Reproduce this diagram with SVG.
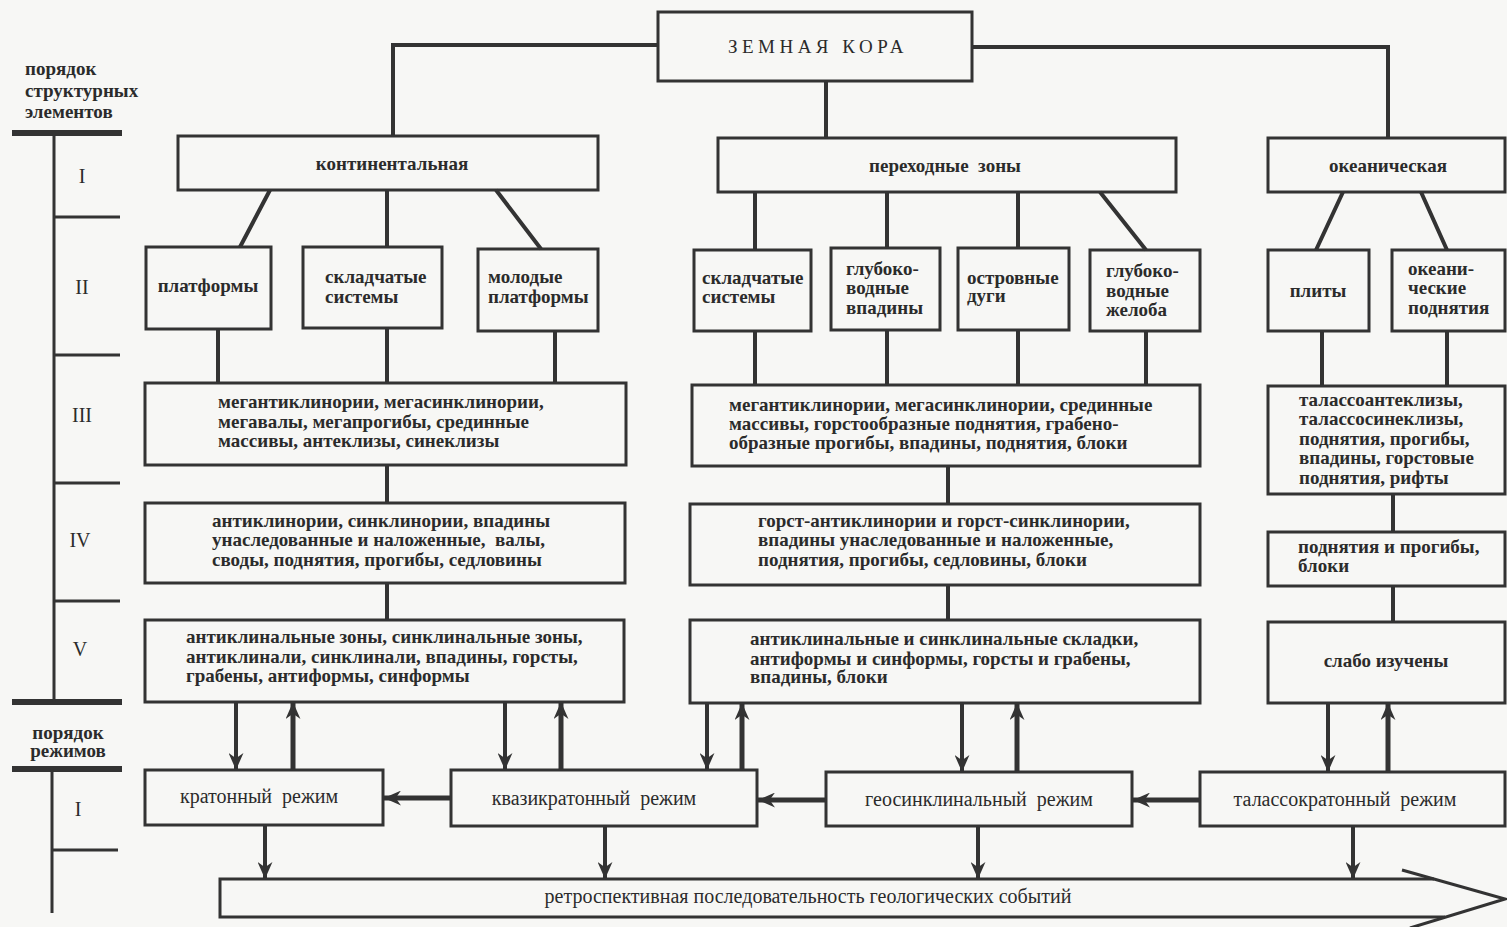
<svg xmlns="http://www.w3.org/2000/svg" width="1507" height="927" viewBox="0 0 1507 927">
<defs>
<style>
.bg{fill:#f7f7f5}
.box{fill:none;stroke:#333;stroke-width:3}
.ln{fill:none;stroke:#333;stroke-width:4}
.ar{fill:none;stroke:#333;stroke-width:4}
.arT{fill:none;stroke:#333;stroke-width:5}
.sc{fill:none;stroke:#333;stroke-width:3}
.scT{fill:none;stroke:#333;stroke-width:6}
text{font-family:"Liberation Serif","Times New Roman",serif;fill:#2b2b2b;font-size:19px;font-weight:bold;white-space:pre}
.c{text-anchor:middle}
.n{font-weight:normal;font-size:20px}
.root{font-weight:normal;font-size:19px;letter-spacing:4.5px}
.rom{font-weight:normal;font-size:20px;text-anchor:middle}
</style>
<marker id="ah" viewBox="0 0 16 14" refX="16" refY="7" markerWidth="17" markerHeight="15" markerUnits="userSpaceOnUse" orient="auto">
<path d="M0,0 L16,7 L0,14 L5,7 z" fill="#333"/>
</marker>
</defs>
<rect class="bg" x="0" y="0" width="1507" height="927"/>

<g id="scale">
<path class="scT" d="M12,133 H122 M12,702 H122 M12,769 H122"/>
<path class="sc" d="M54,133 V702 M54,217 H120 M54,355 H120 M54,483 H120 M54,601 H120 M52,769 V913 M52,850 H118"/>
<text x="25" y="75">порядок</text>
<text x="25" y="97">структурных</text>
<text x="25" y="118">элементов</text>
<text class="rom" x="82" y="183">I</text>
<text class="rom" x="82" y="294">II</text>
<text class="rom" x="82" y="422">III</text>
<text class="rom" x="80" y="547">IV</text>
<text class="rom" x="80" y="656">V</text>
<text class="c" x="68" y="739">порядок</text>
<text class="c" x="68" y="757">режимов</text>
<text class="rom" x="78" y="816">I</text>
</g>

<g id="connectors">
<path class="ln" d="M658,45 H393 V136"/>
<path class="ln" d="M972,47 H1388 V138"/>
<path class="ln" d="M826,81 V138"/>
<path class="ln" d="M270,190 L240,247 M387,190 V247 M496,190 L541,249"/>
<path class="ln" d="M755,192 V250 M887,192 V248 M1018,192 V248 M1100,192 L1146,250"/>
<path class="ln" d="M1343,192 L1316,250 M1421,192 L1447,250"/>
<path class="ln" d="M218,329 V383 M387,328 V383 M555,331 V383"/>
<path class="ln" d="M755,331 V385 M887,330 V385 M1018,330 V385 M1146,331 V385"/>
<path class="ln" d="M1322,331 V386 M1447,331 V386"/>
<path class="ln" d="M387,465 V503 M948,466 V504 M1393,494 V532"/>
<path class="ln" d="M387,583 V620 M948,585 V620 M1393,586 V622"/>
<path class="ar" marker-end="url(#ah)" d="M236,702 V770"/>
<path class="arT" marker-end="url(#ah)" d="M293,770 V702"/>
<path class="ar" marker-end="url(#ah)" d="M505,702 V770"/>
<path class="arT" marker-end="url(#ah)" d="M561,770 V702"/>
<path class="ar" marker-end="url(#ah)" d="M707,703 V770"/>
<path class="arT" marker-end="url(#ah)" d="M742,770 V703"/>
<path class="ar" marker-end="url(#ah)" d="M962,703 V772"/>
<path class="arT" marker-end="url(#ah)" d="M1017,772 V703"/>
<path class="ar" marker-end="url(#ah)" d="M1328,703 V772"/>
<path class="arT" marker-end="url(#ah)" d="M1388,772 V703"/>
<path class="arT" marker-end="url(#ah)" d="M451,798 H384"/>
<path class="arT" marker-end="url(#ah)" d="M826,800 H758"/>
<path class="arT" marker-end="url(#ah)" d="M1200,800 H1133"/>
<path class="ar" marker-end="url(#ah)" d="M265,825 V879"/>
<path class="ar" marker-end="url(#ah)" d="M605,826 V879"/>
<path class="ar" marker-end="url(#ah)" d="M978,826 V879"/>
<path class="ar" marker-end="url(#ah)" d="M1353,826 V879"/>
</g>

<g id="root"><rect class="box" x="658" y="12" width="314" height="69"/><text class="root c" x="818" y="53">ЗЕМНАЯ КОРА</text></g>

<g id="continental"><rect class="box" x="178" y="136" width="420" height="54"/><text class="c" x="392" y="170">континентальная</text></g>
<g id="transition"><rect class="box" x="718" y="138" width="458" height="54"/><text class="c" x="945" y="172">переходные  зоны</text></g>
<g id="oceanic"><rect class="box" x="1268" y="138" width="237" height="54"/><text class="c" x="1388" y="172">океаническая</text></g>

<g id="platforms"><rect class="box" x="146" y="247" width="125" height="82"/><text class="c" x="208" y="292">платформы</text></g>
<g id="folded1"><rect class="box" x="303" y="247" width="139" height="81"/><text x="325" y="283">складчатые</text><text x="325" y="303">системы</text></g>
<g id="young"><rect class="box" x="478" y="249" width="120" height="82"/><text x="488" y="283">молодые</text><text x="488" y="303">платформы</text></g>
<g id="folded2"><rect class="box" x="694" y="250" width="117" height="81"/><text x="702" y="284">складчатые</text><text x="702" y="303">системы</text></g>
<g id="deepbasins"><rect class="box" x="831" y="248" width="109" height="82"/><text x="846" y="275">глубоко-</text><text x="846" y="294">водные</text><text x="846" y="314">впадины</text></g>
<g id="arcs"><rect class="box" x="958" y="248" width="111" height="82"/><text x="967" y="284">островные</text><text x="967" y="302">дуги</text></g>
<g id="trenches"><rect class="box" x="1090" y="250" width="110" height="81"/><text x="1106" y="277">глубоко-</text><text x="1106" y="297">водные</text><text x="1106" y="316">желоба</text></g>
<g id="plates"><rect class="box" x="1268" y="250" width="101" height="81"/><text class="c" x="1318" y="297">плиты</text></g>
<g id="oceanrises"><rect class="box" x="1392" y="250" width="113" height="81"/><text x="1408" y="275">океани-</text><text x="1408" y="294">ческие</text><text x="1408" y="314">поднятия</text></g>

<g id="c3"><rect class="box" x="145" y="383" width="481" height="82"/>
<text x="218" y="408">мегантиклинории, мегасинклинории,</text>
<text x="218" y="428">мегавалы, мегапрогибы, срединные</text>
<text x="218" y="447">массивы, антеклизы, синеклизы</text></g>
<g id="t3"><rect class="box" x="692" y="385" width="508" height="81"/>
<text x="729" y="411">мегантиклинории, мегасинклинории, срединные</text>
<text x="729" y="430">массивы, горстообразные поднятия, грабено-</text>
<text x="729" y="449">образные прогибы, впадины, поднятия, блоки</text></g>
<g id="o3"><rect class="box" x="1268" y="386" width="237" height="108"/>
<text x="1299" y="406">талассоантеклизы,</text>
<text x="1299" y="425">талассосинеклизы,</text>
<text x="1299" y="445">поднятия, прогибы,</text>
<text x="1299" y="464">впадины, горстовые</text>
<text x="1299" y="484">поднятия, рифты</text></g>

<g id="c4"><rect class="box" x="145" y="503" width="480" height="80"/>
<text x="212" y="527">антиклинории, синклинории, впадины</text>
<text x="212" y="546">унаследованные и наложенные,  валы,</text>
<text x="212" y="566">своды, поднятия, прогибы, седловины</text></g>
<g id="t4"><rect class="box" x="690" y="504" width="510" height="81"/>
<text x="758" y="527">горст-антиклинории и горст-синклинории,</text>
<text x="758" y="546">впадины унаследованные и наложенные,</text>
<text x="758" y="566">поднятия, прогибы, седловины, блоки</text></g>
<g id="o4"><rect class="box" x="1268" y="532" width="237" height="54"/>
<text x="1298" y="553">поднятия и прогибы,</text>
<text x="1298" y="572">блоки</text></g>

<g id="c5"><rect class="box" x="145" y="620" width="479" height="82"/>
<text x="186" y="643">антиклинальные зоны, синклинальные зоны,</text>
<text x="186" y="663">антиклинали, синклинали, впадины, горсты,</text>
<text x="186" y="682">грабены, антиформы, синформы</text></g>
<g id="t5"><rect class="box" x="690" y="620" width="510" height="83"/>
<text x="750" y="645">антиклинальные и синклинальные складки,</text>
<text x="750" y="665">антиформы и синформы, горсты и грабены,</text>
<text x="750" y="683">впадины, блоки</text></g>
<g id="o5"><rect class="box" x="1268" y="622" width="237" height="81"/>
<text class="c" x="1386" y="667">слабо изучены</text></g>

<g id="cratonic"><rect class="box" x="145" y="770" width="238" height="55"/><text class="c n" x="259" y="803">кратонный  режим</text></g>
<g id="quasicratonic"><rect class="box" x="451" y="770" width="306" height="56"/><text class="c n" x="594" y="805">квазикратонный  режим</text></g>
<g id="geosynclinal"><rect class="box" x="826" y="772" width="306" height="54"/><text class="c n" x="979" y="806">геосинклинальный  режим</text></g>
<g id="thalassocratonic"><rect class="box" x="1200" y="772" width="305" height="54"/><text class="c n" x="1345" y="806">талассократонный  режим</text></g>

<g id="retro">
<path class="box" d="M1434,879 H220 V917 H1445"/>
<path class="box" d="M1402,870 L1505,899 L1410,928"/>
<text class="c n" x="808" y="903">ретроспективная последовательность геологических событий</text>
</g>
</svg>
